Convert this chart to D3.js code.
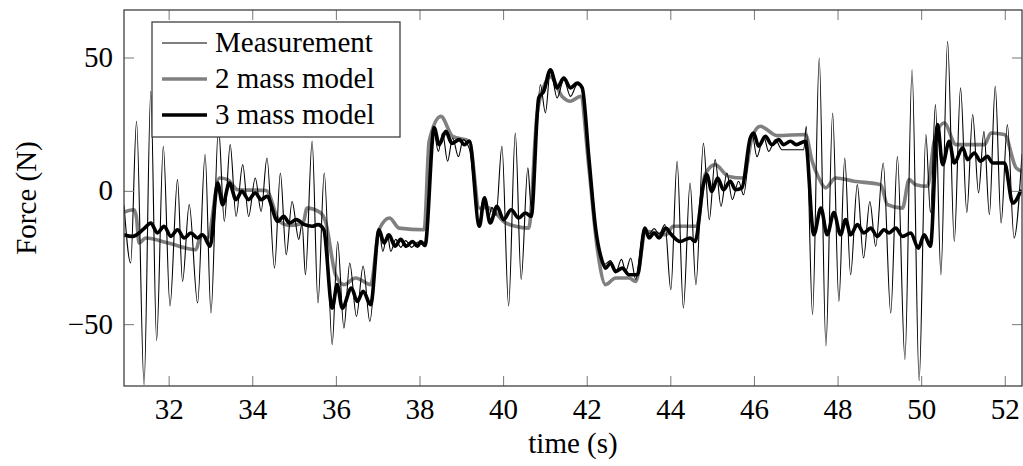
<!DOCTYPE html>
<html>
<head>
<meta charset="utf-8">
<script src="https://cdn.jsdelivr.net/npm/d3@7"></script>
<style>
  body { margin: 0; background: #fff; }
  text { font-family: "Liberation Serif", "DejaVu Serif", serif; fill: #000; }
</style>
</head>
<body>
<div id="chart"></div>
<script>
const measTime = [30.92, 31.08, 31.22, 31.40, 31.56, 31.70, 31.86, 32.02, 32.20, 32.32, 32.48, 32.68, 32.86, 33.00,
  33.18, 33.32, 33.46, 33.60, 33.76, 33.90, 34.06, 34.20, 34.34, 34.52, 34.66, 34.80, 34.94, 35.10, 35.18, 35.26,
  35.42, 35.56, 35.71, 35.90, 36.03, 36.18, 36.32, 36.48, 36.64, 36.80, 37.02, 37.11, 37.22, 37.30, 37.42, 37.54,
  37.66, 37.80, 37.95, 38.12, 38.31, 38.44, 38.54, 38.66, 38.78, 38.92, 39.03, 39.18, 39.42, 39.48, 39.56, 39.64,
  39.72, 39.82, 39.96, 40.12, 40.28, 40.42, 40.58, 40.66, 40.88, 41.00, 41.12, 41.28, 41.44, 41.60, 41.76, 41.88,
  42.04, 42.20, 42.40, 42.56, 42.68, 42.82, 42.92, 43.04, 43.16, 43.36, 43.48, 43.60, 43.72, 43.86, 44.00, 44.15,
  44.30, 44.46, 44.60, 44.78, 44.92, 45.06, 45.20, 45.34, 45.47, 45.62, 45.74, 45.94, 46.06, 46.22, 46.34, 46.50,
  46.66, 47.18, 47.24, 47.39, 47.55, 47.71, 47.87, 48.02, 48.16, 48.30, 48.46, 48.61, 48.76, 48.90, 49.08, 49.26,
  49.42, 49.60, 49.77, 49.94, 50.10, 50.21, 50.33, 50.46, 50.62, 50.78, 50.93, 51.08, 51.22, 51.36, 51.49, 51.62,
  51.76, 51.90, 52.05, 52.21, 52.40];
const measForce = [-5, -26.9, 26.3, -72.5, 37.5, -56, 16.9, -43, 4.4, -33.8, -5, -41.9, 13.8, -45.6,
  24, -11.3, 17.5, -9.4, 10, -9.4, 5, -7.5, 12.5, -28.8, 6.9, -23.8, -3.8, -18, -12, -31.3,
  18.8, -41.9, 6.9, -57.5, -18.8, -51.3, -26.9, -46.9, -28, -48.8, -14.4, -22.5, -16, -22.5, -18, -21,
  -18.5, -21, -19, -20.5, 24.4, 15, 21.9, 11.3, 20, 13, 19.4, 16, -12.5, -5, -2, -10,
  -6, -9, 16.9, -43, 21.9, -33, 8.8, -6, 40, 29.4, 45.6, 35, 42, 35.6, 40, 38.8,
  12.5, -13.8, -27.5, -26, -30.6, -25.5, -30, -25, -33, -13.8, -16, -14, -16, -12.5, -36.9, 11.3,
  -43.8, 3.1, -35, 18, -10.6, 11.9, -5.6, 6.9, -3.1, 3.8, -1.3, 21.9, 13, 20.6, 15, 19.4,
  15.6, 15.6, 24.4, -46.3, 50, -58, 29.4, -41.3, 12.5, -31.3, 2.5, -25, -3.8, -20.6, 10.6, -45.6,
  13, -63, 45.6, -71, 21.3, -8, 32.5, -31.3, 56.3, -18.8, 38.8, -8, 28.8, -0.6, 22.5, -8.8,
  39.4, -11.9, 25, -17.5, 14];

// 2 mass model
const twoMassTime = [30.92, 31.16, 31.22, 31.28, 31.44, 32.00, 32.64, 32.76, 32.92, 33.20, 33.40, 33.64, 34.32,
  34.64, 34.88, 35.20, 35.30, 35.62, 35.74, 35.98, 36.18, 36.46, 36.82, 37.02, 37.27, 37.50, 38.10, 38.22, 38.50,
  38.78, 39.18, 39.42, 39.60, 39.80, 40.00, 40.28, 40.60, 40.80, 41.00, 41.12, 41.40, 41.60, 41.84, 42.04, 42.24,
  42.44, 42.68, 43.00, 43.16, 43.40, 43.88, 44.06, 44.62, 44.82, 45.06, 45.38, 45.74, 45.94, 46.14, 46.54, 47.22,
  47.38, 47.54, 47.70, 47.94, 48.38, 49.02, 49.18, 49.54, 49.70, 49.86, 50.14, 50.30, 50.54, 50.82, 51.50, 51.66,
  51.98, 52.26, 52.41];
const twoMassForce = [-7.8, -6.9, -10, -19.4, -17.5, -19.5, -21.9, -16.3, -17.5, 5, 4.4, 0.6, 0.3,
  -11.3, -12.8, -12, -6.3, -8, -11.3, -31.3, -35, -32.5, -35, -14.4, -10, -13.8, -14.4, 18.8, 28.1,
  20.6, 18.8, -6.3, -6, -8, -11.3, -13.1, -13.8, 28.8, 40.6, 43, 35.6, 33.8, 35.6, 8.8, -21.3,
  -35, -32.5, -32.5, -33.8, -15, -16.3, -13.1, -13.1, 6.3, 10, 5.6, 5, 20, 24.4, 20.9, 21.3,
  11.3, 5, 1.3, 5, 3.8, 2.5, -5, -6.3, 4.4, 2.5, 1.9, 18.8, 25.6, 17.5, 17.5, 21.9,
  21.3, 8.8, 7.5];

// 3 mass model
const threeMassTime = [30.92, 31.12, 31.40, 31.56, 31.72, 31.88, 32.04, 32.20, 32.36, 32.52, 32.68, 32.80, 32.98,
  33.16, 33.28, 33.44, 33.60, 33.74, 33.90, 34.06, 34.20, 34.34, 34.60, 34.74, 34.88, 35.04, 35.24, 35.42, 35.56,
  35.70, 35.90, 36.02, 36.14, 36.36, 36.50, 36.64, 36.82, 37.02, 37.14, 37.26, 37.40, 37.54, 37.67, 37.82, 37.94,
  38.02, 38.12, 38.34, 38.46, 38.62, 38.76, 38.94, 39.06, 39.18, 39.42, 39.54, 39.68, 39.84, 40.00, 40.18, 40.36,
  40.52, 40.66, 40.84, 40.96, 41.12, 41.28, 41.44, 41.60, 41.76, 41.88, 42.04, 42.20, 42.36, 42.44, 42.56, 42.68,
  42.84, 43.00, 43.20, 43.38, 43.48, 43.60, 43.72, 43.88, 44.00, 44.22, 44.46, 44.58, 44.78, 44.86, 44.98, 45.12,
  45.26, 45.42, 45.55, 45.70, 45.90, 45.98, 46.10, 46.26, 46.42, 46.58, 46.70, 46.86, 47.00, 47.22, 47.42, 47.59,
  47.74, 47.90, 48.06, 48.18, 48.30, 48.46, 48.62, 48.78, 48.94, 49.10, 49.22, 49.38, 49.54, 49.74, 49.92, 50.06,
  50.21, 50.38, 50.50, 50.66, 50.78, 50.98, 51.10, 51.26, 51.41, 51.57, 51.70, 51.98, 52.18, 52.38];
const threeMassForce = [-16.3, -16.9, -14, -11.9, -15.6, -13.1, -16.9, -14.4, -17.5, -15.6, -17.5, -16.3, -20.6,
  3.1, -5, 3.1, -3.1, 0, -3.1, -0.6, -3.1, -1.9, -11.3, -9.4, -11.9, -10.6, -12.5, -13.1, -12.5,
  -14.4, -43.8, -35, -43.8, -36.3, -41.3, -37.5, -42.5, -14.4, -19.4, -16.3, -20.6, -18, -20.6, -18.8, -20.6,
  -18.8, -20.3, 23.8, 17.5, 22.5, 18, 19.4, 17.5, 18.8, -13.1, -2.5, -11.9, -5.6, -10.6, -6.9, -10,
  -8.1, -9.4, 35, 37.5, 45.6, 38.8, 42.5, 38.8, 40.6, 38.8, 12.5, -13.8, -26.3, -28.8, -26.9, -30,
  -28.8, -31.3, -31.3, -13.8, -17.5, -15.6, -17.5, -13.8, -16, -18.8, -17.5, -18.8, 2.5, 6.3, 0, 5,
  0.6, 3.8, 0.6, 1.3, 20, 21.9, 16.9, 20.6, 17.5, 19.4, 17.5, 18.8, 17.5, 18.8, -16.3, -6.3,
  -16.3, -8, -16.3, -10.6, -16.3, -12.5, -15.6, -13.8, -16.9, -14.4, -15.6, -13.8, -16.9, -15.6, -21.3, -16.3,
  -20.6, 25, 10, 18.8, 10.6, 16.3, 11.9, 14.4, 11.3, 13.1, 10.6, 10.6, -4.4, 0.6];

const xTicks = [32, 34, 36, 38, 40, 42, 44, 46, 48, 50, 52];
const yTicks = [-50, 0, 50];
const legendLabels = ['Measurement', '2 mass model', '3 mass model'];

function zip(ts, vs) {
  return ts.map((t, i) => [t, vs[i]]);
}

function createChart() {
  const WIDTH = 1023;
  const HEIGHT = 466;
  const LEFT = 124, RIGHT = 1022, TOP = 10, BOTTOM = 386;
  const TICK = 10;
  const FONT = 29;

  const svg = d3.select('#chart').append('svg')
    .attr('width', WIDTH)
    .attr('height', HEIGHT);

  const x = d3.scaleLinear().domain([30.92, 52.4]).range([LEFT, RIGHT]);
  const y = d3.scaleLinear().domain([-73, 68]).range([BOTTOM, TOP]);

  svg.append('clipPath').attr('id', 'clip')
    .append('rect')
    .attr('x', LEFT).attr('y', TOP)
    .attr('width', RIGHT - LEFT).attr('height', BOTTOM - TOP);

  const line = d3.line()
    .x(d => x(d[0]))
    .y(d => y(d[1]))
    .curve(d3.curveMonotoneX);

  const series = [
    { data: zip(twoMassTime, twoMassForce), color: '#808080', width: 3.6 },
    { data: zip(threeMassTime, threeMassForce), color: '#000', width: 3.6 },
    { data: zip(measTime, measForce), color: '#000', width: 1.1 }
  ];

  const g = svg.append('g').attr('clip-path', 'url(#clip)');
  g.selectAll('path')
    .data(series)
    .join('path')
      .attr('fill', 'none')
      .attr('stroke', d => d.color)
      .attr('stroke-width', d => d.width)
      .attr('stroke-linejoin', 'round')
      .attr('d', d => line(d.data));

  // ticks on all four sides, pointing inwards
  const ticks = svg.append('g')
    .attr('stroke', '#777')
    .attr('stroke-width', 1);
  xTicks.forEach(t => {
    ticks.append('line').attr('x1', x(t)).attr('x2', x(t)).attr('y1', BOTTOM).attr('y2', BOTTOM - TICK);
    ticks.append('line').attr('x1', x(t)).attr('x2', x(t)).attr('y1', TOP).attr('y2', TOP + TICK);
  });
  yTicks.forEach(v => {
    ticks.append('line').attr('x1', LEFT).attr('x2', LEFT + TICK).attr('y1', y(v)).attr('y2', y(v));
    ticks.append('line').attr('x1', RIGHT).attr('x2', RIGHT - TICK).attr('y1', y(v)).attr('y2', y(v));
  });

  svg.append('rect')
    .attr('x', LEFT).attr('y', TOP)
    .attr('width', RIGHT - LEFT).attr('height', BOTTOM - TOP)
    .attr('fill', 'none')
    .attr('stroke', '#404040')
    .attr('stroke-width', 1.3);

  // tick labels
  svg.append('g').selectAll('text')
    .data(xTicks)
    .join('text')
      .attr('x', d => x(d))
      .attr('y', BOTTOM + 33)
      .attr('text-anchor', 'middle')
      .attr('font-size', FONT)
      .text(d => d);

  svg.append('g').selectAll('text')
    .data(yTicks)
    .join('text')
      .attr('x', LEFT - 11)
      .attr('y', d => y(d) + 9)
      .attr('text-anchor', 'end')
      .attr('font-size', FONT)
      .text(d => d < 0 ? '\u2212' + Math.abs(d) : d);

  // axis titles
  svg.append('text')
    .attr('x', (LEFT + RIGHT) / 2)
    .attr('y', 453)
    .attr('text-anchor', 'middle')
    .attr('font-size', FONT)
    .text('time (s)');

  svg.append('text')
    .attr('transform', `translate(36,${(TOP + BOTTOM) / 2}) rotate(-90)`)
    .attr('text-anchor', 'middle')
    .attr('font-size', FONT)
    .text('Force (N)');

  // legend
  const legend = svg.append('g');
  legend.append('rect')
    .attr('x', 152).attr('y', 22)
    .attr('width', 248).attr('height', 115)
    .attr('fill', '#fff')
    .attr('stroke', '#404040')
    .attr('stroke-width', 1.3);

  const legendStyles = [series[2], series[0], series[1]];
  legendLabels.forEach((label, i) => {
    const cy = 43 + i * 36;
    legend.append('line')
      .attr('x1', 162).attr('x2', 207)
      .attr('y1', cy).attr('y2', cy)
      .attr('stroke', legendStyles[i].color)
      .attr('stroke-width', legendStyles[i].width);
    legend.append('text')
      .attr('x', 215)
      .attr('y', cy + 9)
      .attr('font-size', FONT)
      .text(label);
  });
}

(function main() {
  createChart();
})();
</script>
</body>
</html>
